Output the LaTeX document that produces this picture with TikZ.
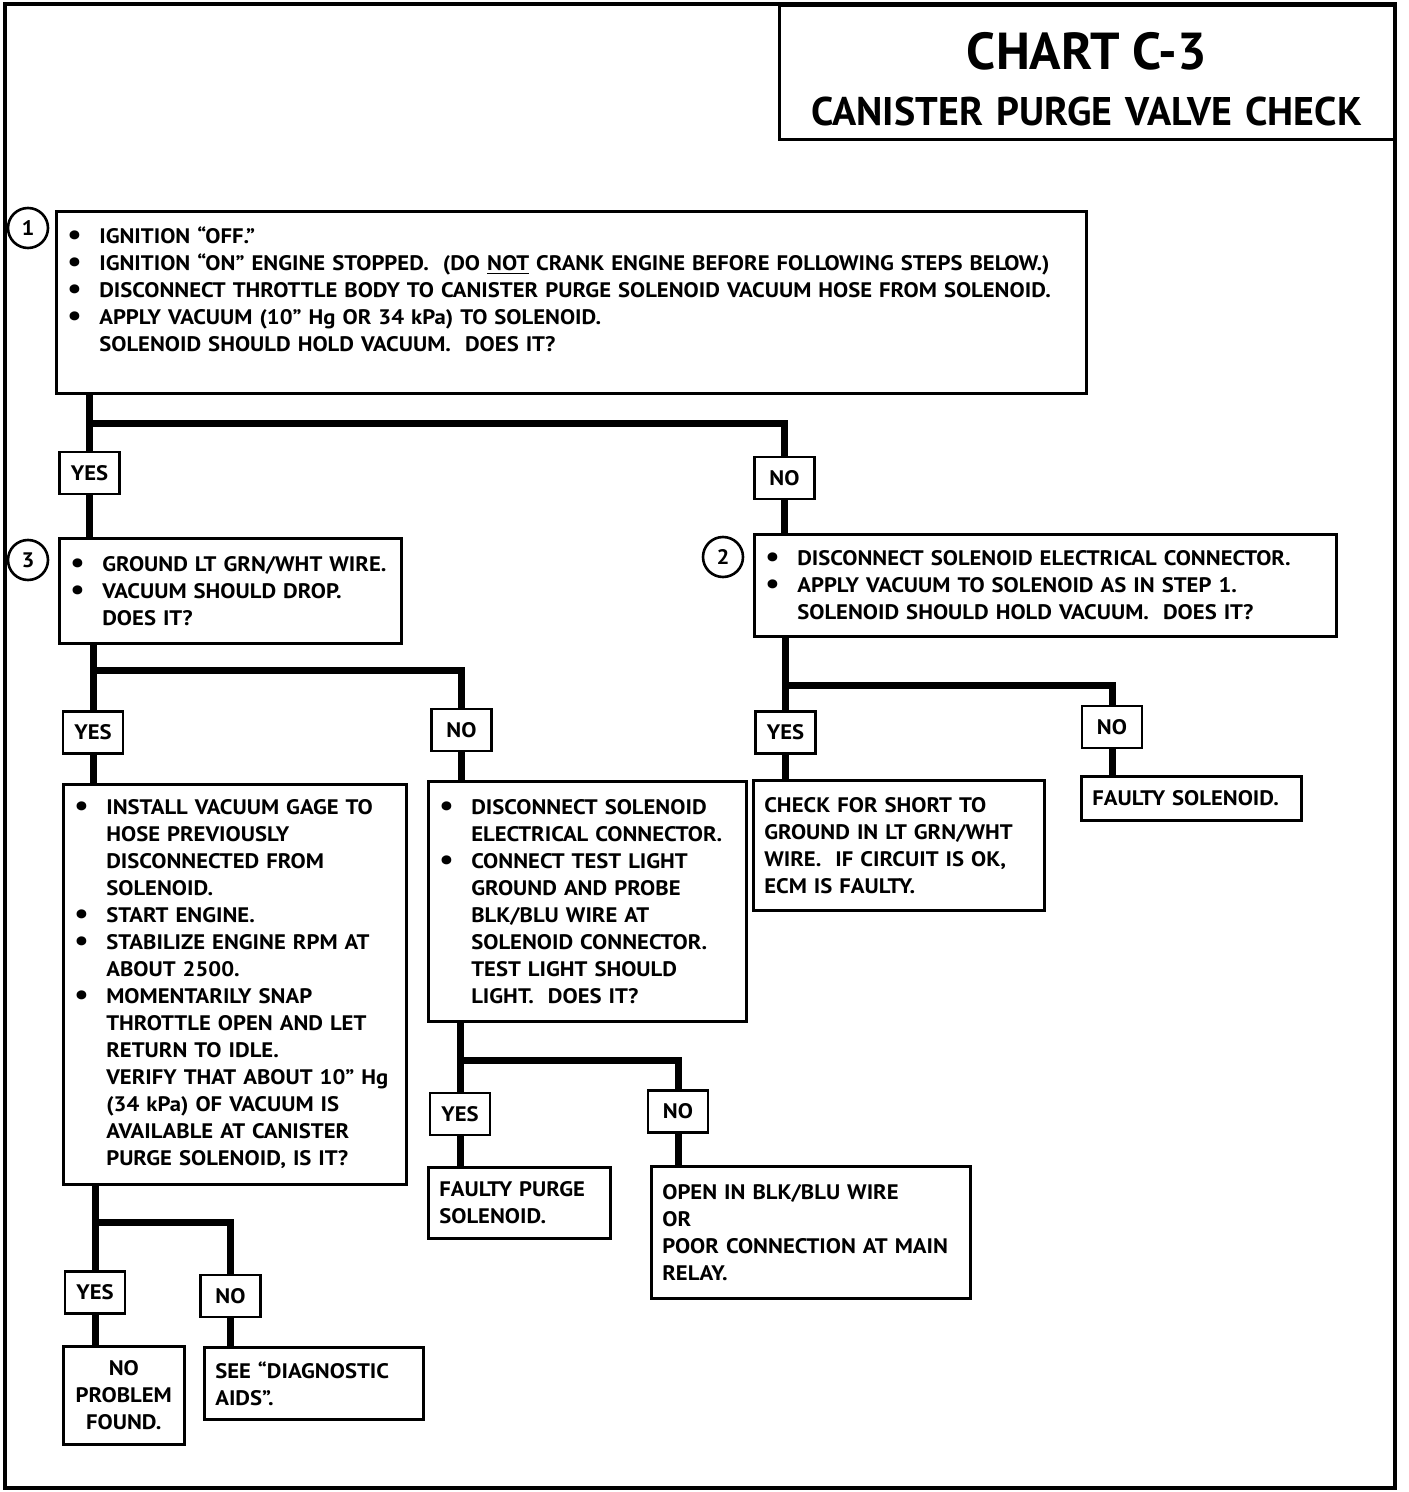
\documentclass[tikz,border=0pt]{standalone}
\usepackage{fontspec}
\setmainfont[FakeStretch=1.08]{PT Sans}
\newfontfamily\titlefont{PT Sans}
\usetikzlibrary{positioning}

\newcommand{\bul}{\makebox[16pt][l]{\raisebox{-0.6pt}[0pt][0pt]{\scalebox{1.4}{\textbullet}}}}
\newcommand{\ind}{\hspace*{16pt}}

\tikzset{
  box/.style={rectangle, draw=black, line width=1.3pt, anchor=north west,
    inner xsep=5.5pt, inner ysep=0pt, align=left},
  answer/.style={rectangle, draw=black, line width=1.3pt,
    minimum width=30pt, minimum height=21pt, inner sep=2pt},
  stepno/.style={circle, draw=black, line width=1.3pt, minimum size=20pt, inner sep=0pt},
  trunk/.style={draw=black, line width=3.5pt},
}

\begin{document}
\begin{tikzpicture}[x=0.5pt, y=-0.5pt, font=\bfseries\fontsize{10.5pt}{13.5pt}\selectfont]
  \useasboundingbox (0,0) rectangle (1408,1492);
  % outer frame
  \draw[line width=2pt] (5,4) rectangle (1395,1488);

  \node[box, align=center, minimum width=307.5pt, minimum height=67pt, text width=296pt,
    font=\titlefont\bfseries\fontsize{20pt}{28pt}\selectfont] (title) at (778,4)
    {\raisebox{-3.5pt}[\height][\depth]{\fontsize{26pt}{28pt}\selectfont CHART C-3}\\
     \raisebox{-3.5pt}[\height][\depth]{CANISTER PURGE VALVE CHECK}};

  % step 1
  \node[box, minimum width=515pt, minimum height=91pt, text width=504pt] (step1) at (55,210)
    {\bul IGNITION “OFF.”\\
     \bul IGNITION “ON” ENGINE STOPPED.\ \ (DO \underline{NOT} CRANK ENGINE BEFORE FOLLOWING STEPS BELOW.)\\
     \bul DISCONNECT THROTTLE BODY TO CANISTER PURGE SOLENOID VACUUM HOSE FROM SOLENOID.\\
     \bul APPLY VACUUM (10” Hg OR 34 kPa) TO SOLENOID.\\
     \ind SOLENOID SHOULD HOLD VACUUM.\ \ DOES IT?\\
     \mbox{}};
  \node[stepno] (num1) at (28,228) {1};

  \node[answer] (yes1) at (89.5,473) {YES};
  \node[answer] (no1) at (784.5,478) {NO};

  % step 3
  \node[box, minimum width=171pt, minimum height=52.5pt, text width=160pt] (step3) at (58,537)
    {\bul GROUND LT GRN/WHT WIRE.\\
     \bul VACUUM SHOULD DROP.\\
     \ind DOES IT?};
  \node[stepno] (num3) at (28,560) {3};

  % step 2
  \node[box, minimum width=291pt, minimum height=51pt, text width=280pt] (step2) at (753,533)
    {\bul DISCONNECT SOLENOID ELECTRICAL CONNECTOR.\\
     \bul APPLY VACUUM TO SOLENOID AS IN STEP 1.\\
     \ind SOLENOID SHOULD HOLD VACUUM.\ \ DOES IT?};
  \node[stepno] (num2) at (723,557) {2};

  \node[answer] (yes3) at (93,732.5) {YES};
  \node[answer] (no3) at (461.5,730) {NO};
  \node[answer] (yes2) at (785.5,732.5) {YES};
  \node[answer] (no2) at (1112,727) {NO};

  \node[box, minimum width=171.5pt, minimum height=200pt, text width=160.5pt] (gage) at (62,783)
    {\bul INSTALL VACUUM GAGE TO\\
     \ind HOSE PREVIOUSLY\\
     \ind DISCONNECTED FROM\\
     \ind SOLENOID.\\
     \bul START ENGINE.\\
     \bul STABILIZE ENGINE RPM AT\\
     \ind ABOUT 2500.\\
     \bul MOMENTARILY SNAP\\
     \ind THROTTLE OPEN AND LET\\
     \ind RETURN TO IDLE.\\
     \ind VERIFY THAT ABOUT 10” Hg\\
     \ind (34 kPa) OF VACUUM IS\\
     \ind AVAILABLE AT CANISTER\\
     \ind PURGE SOLENOID, IS IT?};

  \node[box, minimum width=159pt, minimum height=120pt, text width=148pt] (light) at (427,780)
    {\bul DISCONNECT SOLENOID\\
     \ind ELECTRICAL CONNECTOR.\\
     \bul CONNECT TEST LIGHT\\
     \ind GROUND AND PROBE\\
     \ind BLK/BLU WIRE AT\\
     \ind SOLENOID CONNECTOR.\\
     \ind TEST LIGHT SHOULD\\
     \ind LIGHT.\ \ DOES IT?};

  \node[box, minimum width=145.5pt, minimum height=65pt, text width=134.5pt] (short) at (752,779)
    {CHECK FOR SHORT TO\\
     GROUND IN LT GRN/WHT\\
     WIRE.\ \ IF CIRCUIT IS OK,\\
     ECM IS FAULTY.};
  \node[box, minimum width=110pt, minimum height=22pt, text width=99pt] (faultysol) at (1080,775)
    {FAULTY SOLENOID.};

  \node[answer] (yes5) at (460,1114) {YES};
  \node[answer] (no5) at (678,1111.5) {NO};
  \node[box, minimum width=91pt, minimum height=35.5pt, text width=80pt] (faultypurge) at (427,1166)
    {FAULTY PURGE\\ SOLENOID.};
  \node[box, minimum width=159.5pt, minimum height=66pt, text width=148.5pt] (openwire) at (650,1165)
    {OPEN IN BLK/BLU WIRE\\ OR\\ POOR CONNECTION AT MAIN\\ RELAY.};

  \node[answer] (yes4) at (95,1292.5) {YES};
  \node[answer] (no4) at (230.5,1296) {NO};
  \node[box, align=center, minimum width=60.5pt, minimum height=49pt, text width=49.5pt] (noproblem) at (62,1345)
    {NO\\ PROBLEM\\ FOUND.};
  \node[box, minimum width=109.5pt, minimum height=36pt, text width=98.5pt] (diagaids) at (203,1346)
    {SEE “DIAGNOSTIC\\ AIDS”.};

  % connectors
  \coordinate (fork1) at (0,423);
  \coordinate (fork3) at (0,670);
  \coordinate (fork2) at (0,685);
  \coordinate (fork5) at (0,1060);
  \coordinate (fork4) at (0,1222);

  \draw[trunk] (yes1.north |- step1.south) -- (yes1.north);
  \draw[trunk] (yes1.north |- fork1) -| (no1.north);
  \draw[trunk] (yes1.south) -- (yes1.south |- step3.north);
  \draw[trunk] (no1.south) -- (no1.south |- step2.north);

  \draw[trunk] (yes3.north |- step3.south) -- (yes3.north);
  \draw[trunk] (yes3.north |- fork3) -| (no3.north);
  \draw[trunk] (yes3.south) -- (yes3.south |- gage.north);
  \draw[trunk] (no3.south) -- (no3.south |- light.north);

  \draw[trunk] (yes2.north |- step2.south) -- (yes2.north);
  \draw[trunk] (yes2.north |- fork2) -| (no2.north);
  \draw[trunk] (yes2.south) -- (yes2.south |- short.north);
  \draw[trunk] (no2.south) -- (no2.south |- faultysol.north);

  \draw[trunk] (yes5.north |- light.south) -- (yes5.north);
  \draw[trunk] (yes5.north |- fork5) -| (no5.north);
  \draw[trunk] (yes5.south) -- (yes5.south |- faultypurge.north);
  \draw[trunk] (no5.south) -- (no5.south |- openwire.north);

  \draw[trunk] (yes4.north |- gage.south) -- (yes4.north);
  \draw[trunk] (yes4.north |- fork4) -| (no4.north);
  \draw[trunk] (yes4.south) -- (yes4.south |- noproblem.north);
  \draw[trunk] (no4.south) -- (no4.south |- diagaids.north);
\end{tikzpicture}
\end{document}
